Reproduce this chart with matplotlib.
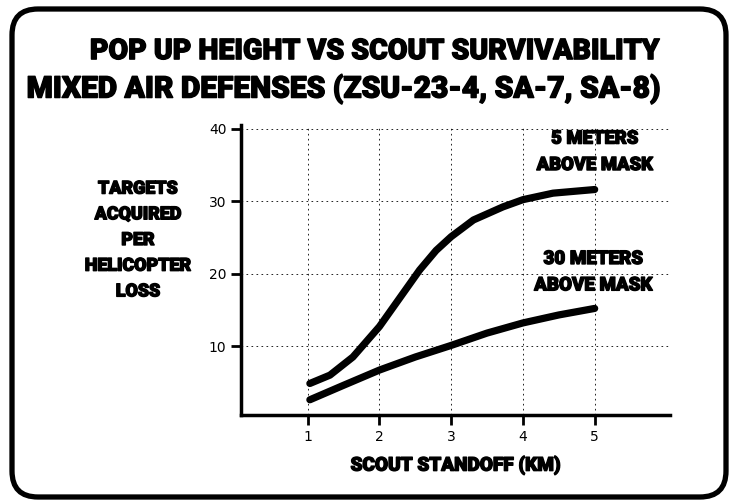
import numpy as np
import matplotlib
matplotlib.use('Agg')
import matplotlib.pyplot as plt
import matplotlib.patheffects as pe
from matplotlib.patches import FancyBboxPatch

# values
standoff_5m = [1.03, 1.31, 1.63, 2.0, 2.28, 2.56, 2.79, 3.0, 3.31, 3.72, 4.0, 4.42, 5.0]
targets_5m = [4.85, 6.0, 8.5, 12.7, 16.6, 20.5, 23.2, 25.1, 27.4, 29.2, 30.2, 31.1, 31.6]
standoff_30m = [1.03, 1.5, 2.0, 2.5, 3.0, 3.5, 4.0, 4.5, 5.0]
targets_30m = [2.6, 4.6, 6.7, 8.5, 10.1, 11.8, 13.2, 14.3, 15.2]
x_ticks = [1, 2, 3, 4, 5]
y_ticks = [10, 20, 30, 40]

heavy = ['Roboto', 'DejaVu Sans']
thick = [pe.withStroke(linewidth=1.0, foreground='black')]

fig = plt.figure(figsize=(7.32, 5.01), dpi=100)
rend = fig.canvas.get_renderer()

def fit(t, width):
    # scale the font so the widest line is 'width' px wide
    w = t.get_window_extent(rend).width
    t.set_fontsize(t.get_fontsize() * width / w)
    t.set_path_effects(thick)

# rounded frame around everything
bg = fig.add_axes([0, 0, 1, 1])
bg.set_xlim(0, 732)
bg.set_ylim(501, 0)
bg.axis('off')
bg.add_patch(FancyBboxPatch((12, 9), 714, 488, boxstyle='round,pad=0,rounding_size=26',
                            fill=False, lw=3.8, ec='black'))

t1 = fig.text(0.512, 0.898, 'POP UP HEIGHT VS SCOUT SURVIVABILITY', ha='center', va='center',
              fontsize=24, fontweight='black', family=heavy)
t2 = fig.text(0.469, 0.822, 'MIXED AIR DEFENSES (ZSU-23-4, SA-7, SA-8)', ha='center', va='center',
              fontsize=24, fontweight='black', family=heavy)
fit(t1, 570)
fit(t2, 634)

ax = fig.add_axes([241/732, 86/501, 429/732, 290/501])
ax.plot(standoff_5m, targets_5m, color='black', lw=5.2, solid_capstyle='round')
ax.plot(standoff_30m, targets_30m, color='black', lw=5.2, solid_capstyle='round')

ax.set_xlim(0.07, 6.05)
ax.set_ylim(0.5, 40.5)
ax.set_xticks(x_ticks)
ax.set_yticks(y_ticks)
ax.tick_params(direction='out', length=7, width=2, labelsize=10)
for s in ['top', 'right']:
    ax.spines[s].set_visible(False)
for s in ['left', 'bottom']:
    ax.spines[s].set_linewidth(2.5)
ax.grid(True, color='black', lw=0.6, linestyle=(0, (2, 4)))

xl = ax.set_xlabel('SCOUT STANDOFF (KM)', fontsize=13, fontweight='black', family=heavy, labelpad=9)
fit(xl, 210)
yl = fig.text(138/732, 1 - 240/501, 'TARGETS\nACQUIRED\nPER\nHELICOPTER\nLOSS', ha='center', va='center',
              fontsize=12, fontweight='black', family=heavy, linespacing=1.55)
fit(yl, 106)

a1 = ax.text(5.0, 36.8, '5 METERS\nABOVE MASK', ha='center', va='center', fontsize=12,
             fontweight='black', family=heavy, linespacing=1.6)
a2 = ax.text(4.98, 20.2, '30 METERS\nABOVE MASK', ha='center', va='center', fontsize=12,
             fontweight='black', family=heavy, linespacing=1.6)
fit(a1, 116)
fit(a2, 118)

fig.savefig('out.png', dpi=100)
